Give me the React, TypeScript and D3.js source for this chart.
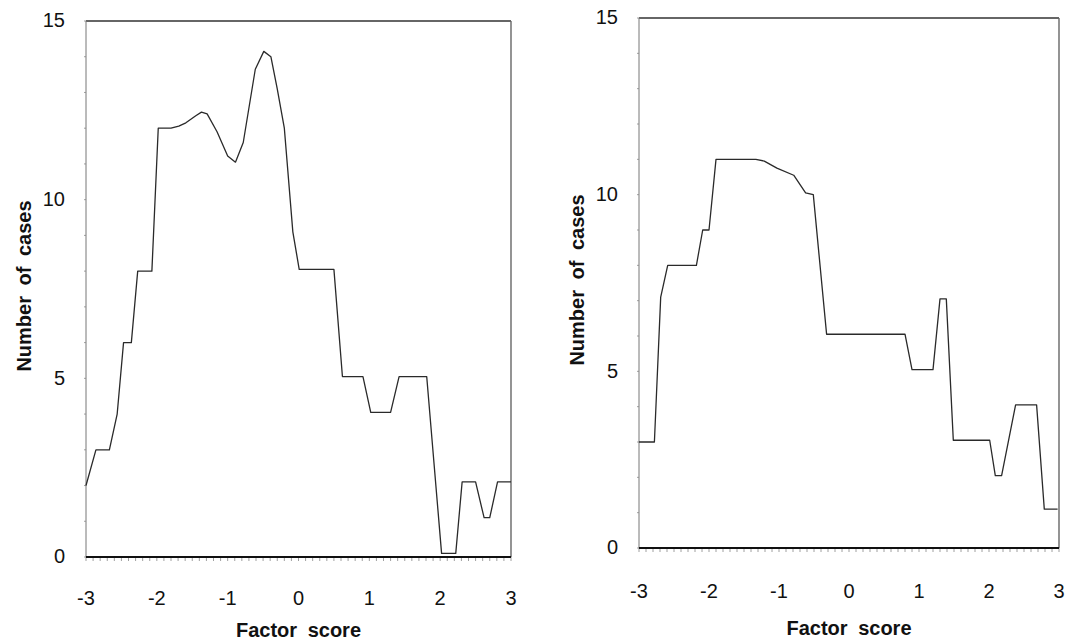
import React from "react";
import * as d3 from "d3";

// Left panel: factor score vs number of cases
const leftX = [-3, -2.86, -2.67, -2.56, -2.47, -2.36, -2.27, -2.07, -1.98, -1.8, -1.69, -1.59, -1.45, -1.37, -1.29, -1.15, -1.0, -0.89, -0.78, -0.61, -0.49, -0.39, -0.3, -0.2, -0.08, 0.01, 0.5, 0.62, 0.91, 1.02, 1.3, 1.42, 1.81, 2.02, 2.22, 2.31, 2.5, 2.62, 2.7, 2.81, 3.0];
const leftY = [2.0, 3.0, 3.0, 4.0, 6.0, 6.0, 8.0, 8.0, 12.0, 12.0, 12.06, 12.15, 12.35, 12.45, 12.4, 11.9, 11.22, 11.05, 11.6, 13.65, 14.15, 14.0, 13.1, 12.0, 9.1, 8.05, 8.05, 5.05, 5.05, 4.05, 4.05, 5.05, 5.05, 0.1, 0.1, 2.1, 2.1, 1.1, 1.1, 2.1, 2.1];

// Right panel
const rightX = [-3, -2.78, -2.69, -2.59, -2.18, -2.09, -2.0, -1.9, -1.33, -1.21, -1.03, -0.79, -0.62, -0.51, -0.32, 0.8, 0.9, 1.2, 1.3, 1.39, 1.49, 2.01, 2.09, 2.18, 2.38, 2.68, 2.79, 2.98];
const rightY = [3.0, 3.0, 7.1, 8.0, 8.0, 9.0, 9.0, 11.0, 11.0, 10.95, 10.75, 10.55, 10.05, 10.0, 6.05, 6.05, 5.05, 5.05, 7.05, 7.05, 3.05, 3.05, 2.05, 2.05, 4.05, 4.05, 1.1, 1.1];

const xTicks = [-3, -2, -1, 0, 1, 2, 3];
const yTicks = [0, 5, 10, 15];
const xLabel = "Factor score";
const yLabel = "Number of cases";

type PanelProps = {
  xs: number[];
  ys: number[];
  left: number;
  right: number;
  top: number;
  bottom: number;
  yLabelX: number;
  yLabelY: number;
  xTickY: number;
  xTitleY: number;
};

function Panel({ xs, ys, left, right, top, bottom, yLabelX, yLabelY, xTickY, xTitleY }: PanelProps) {
  const x = d3.scaleLinear().domain([-3, 3]).range([left, right]);
  const y = d3.scaleLinear().domain([0, 15]).range([bottom, top]);
  const pts: [number, number][] = xs.map((v, i) => [v, ys[i]]);
  const line = d3
    .line<[number, number]>()
    .x((d) => x(d[0]))
    .y((d) => y(d[1]));
  const minorX = d3.range(-3, 3.0001, 0.1);
  const minorY = d3.range(0, 15.0001, 1);
  const font = "'Liberation Sans', Arial, sans-serif";
  return (
    <g>
      {/* frame */}
      <line x1={left} x2={right} y1={top} y2={top} stroke="#333" strokeWidth={1.6} />
      <line x1={right} x2={right} y1={top} y2={bottom} stroke="#666" strokeWidth={1.4} />
      <line x1={left} x2={left} y1={top} y2={bottom} stroke="#777" strokeWidth={1} />
      {/* minor ticks */}
      {minorX.map((v, i) => (
        <line key={"mx" + i} x1={x(v)} x2={x(v)} y1={bottom} y2={bottom + 4} stroke="#888" strokeWidth={0.8} />
      ))}
      {minorY.map((v, i) => (
        <line key={"my" + i} x1={left - 2} x2={left} y1={y(v)} y2={y(v)} stroke="#888" strokeWidth={0.8} />
      ))}
      <line x1={left} x2={right} y1={bottom} y2={bottom} stroke="#111" strokeWidth={2.2} />
      {/* data */}
      <path d={line(pts) || ""} fill="none" stroke="#2a2a2a" strokeWidth={1.3} strokeLinejoin="round" />
      {/* tick labels */}
      {yTicks.map((t) => (
        <text key={"yt" + t} x={left - 21} y={y(t) + 1} textAnchor="end" dominantBaseline="middle" fontFamily={font} fontSize={20} fill="#111">
          {t}
        </text>
      ))}
      {xTicks.map((t) => (
        <text key={"xt" + t} x={x(t)} y={xTickY} textAnchor="middle" fontFamily={font} fontSize={20} fill="#111">
          {t}
        </text>
      ))}
      <text x={(left + right) / 2} y={xTitleY} textAnchor="middle" fontFamily={font} fontSize={20} fontWeight="bold" fill="#111" wordSpacing={5}>
        {xLabel}
      </text>
      <text
        transform={`translate(${yLabelX},${yLabelY}) rotate(-90)`}
        textAnchor="middle"
        fontFamily={font}
        fontSize={20}
        fontWeight="bold"
        fill="#111"
        wordSpacing={5}
      >
        {yLabel}
      </text>
    </g>
  );
}

export default function App() {
  return (
    <svg width={1070} height={644} style={{ position: "absolute", left: 0, top: 0, background: "#fff" }}>
      <rect width={1070} height={644} fill="#fff" />
      <Panel xs={leftX} ys={leftY} left={86} right={511} top={21} bottom={557} yLabelX={31} yLabelY={286} xTickY={605} xTitleY={637} />
      <Panel xs={rightX} ys={rightY} left={639} right={1059} top={18} bottom={548} yLabelX={584} yLabelY={280} xTickY={598} xTitleY={635} />
    </svg>
  );
}
